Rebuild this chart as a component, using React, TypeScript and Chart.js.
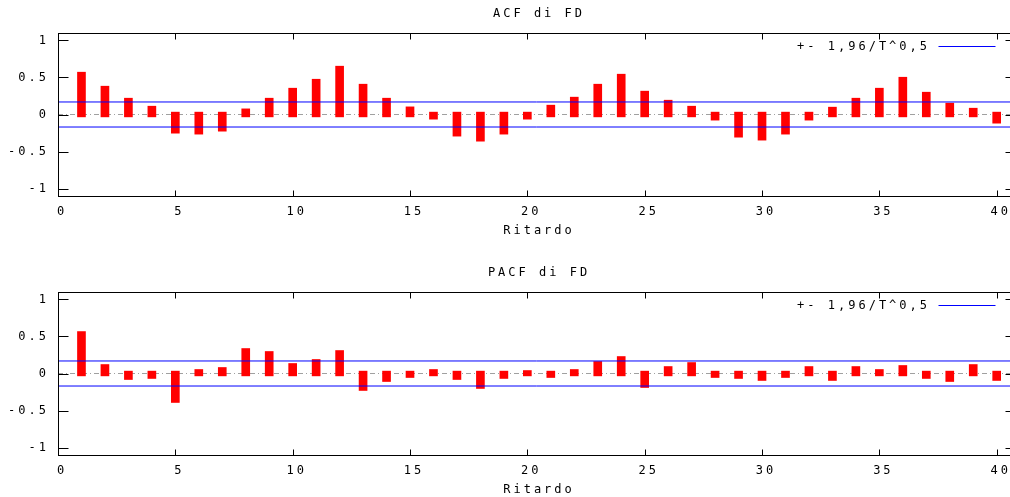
import React, { useEffect, useRef } from "react";
import { Chart, registerables } from "chart.js";

Chart.register(...registerables);

// ---------- data ----------
const lags = [
  1, 2, 3, 4, 5, 6, 7, 8, 9, 10, 11, 12, 13, 14, 15, 16, 17, 18, 19, 20,
  21, 22, 23, 24, 25, 26, 27, 28, 29, 30, 31, 32, 33, 34, 35, 36, 37, 38, 39, 40,
];
const acfValues = [
  0.571, 0.382, 0.22, 0.112, -0.252, -0.265, -0.225, 0.076, 0.22, 0.355,
  0.476, 0.652, 0.409, 0.22, 0.103, -0.063, -0.292, -0.36, -0.265, -0.063,
  0.126, 0.234, 0.409, 0.544, 0.315, 0.193, 0.112, -0.076, -0.306, -0.346,
  -0.265, -0.076, 0.099, 0.22, 0.355, 0.503, 0.301, 0.153, 0.085, -0.117,
];
const pacfValues = [
  0.566, 0.121, -0.081, -0.067, -0.391, 0.054, 0.081, 0.337, 0.297, 0.135,
  0.189, 0.31, -0.229, -0.108, -0.054, 0.054, -0.081, -0.202, -0.067, 0.04,
  -0.054, 0.054, 0.162, 0.229, -0.189, 0.094, 0.148, -0.054, -0.067, -0.094,
  -0.054, 0.094, -0.094, 0.094, 0.054, 0.108, -0.067, -0.108, 0.121, -0.094,
];
const confBand = 0.169;
const xTicks = [0, 5, 10, 15, 20, 25, 30, 35, 40];
const xTickLabels = ["0", "5", "10", "15", "20", "25", "30", "35", "40"];
const yTicks = [-1, -0.5, 0, 0.5, 1];
const yTickLabels = ["-1", "-0.5", "0", "0.5", "1"];
const legendLabel = "+- 1,96/T^0,5";
const xAxisLabel = "Ritardo";
const acfTitle = "ACF di FD";
const pacfTitle = "PACF di FD";
const X_MIN = 0;
const X_MAX = 40.78;
const Y_LIM = 1.1;
const BAR_BASE = 0.032;

// ---------- styles ----------
const FONT_FAMILY = "'DejaVu Sans Mono', monospace";
const FONT_SIZE = 12;
const LETTER_SPACING = "3px";
const RED = "#ff0000";
const BLUE = "#0000ff";
const GRAY = "#a0a0a0";

function makeFramePlugin(title: string) {
  return {
    id: "gnuplotFrame",
    beforeDraw(chart: any) {
      (chart.ctx as any).letterSpacing = LETTER_SPACING;
    },
    afterDraw(chart: any) {
      const { ctx, chartArea: a, scales } = chart;
      const xs = scales.x;
      const ys = scales.y;
      ctx.save();
      ctx.strokeStyle = "#000";
      ctx.lineWidth = 1;
      const L = Math.round(a.left) + 0.5;
      const R = Math.round(a.right) + 0.5;
      const T = Math.round(a.top) + 0.5;
      const B = Math.round(a.bottom) + 0.5;
      ctx.strokeRect(L, T, R - L, B - T);
      ctx.beginPath();
      yTicks.forEach((v) => {
        const py = Math.round(ys.getPixelForValue(v)) + 0.5;
        ctx.moveTo(L, py);
        ctx.lineTo(L + 10, py);
        ctx.moveTo(R, py);
        ctx.lineTo(R - 10, py);
      });
      xTicks.forEach((v) => {
        const px = Math.round(xs.getPixelForValue(v)) + 0.5;
        ctx.moveTo(px, T);
        ctx.lineTo(px, T + 6);
        ctx.moveTo(px, B);
        ctx.lineTo(px, B - 6);
      });
      ctx.stroke();

      (ctx as any).letterSpacing = LETTER_SPACING;
      ctx.fillStyle = "#000";
      ctx.font = `${FONT_SIZE}px ${FONT_FAMILY}`;
      ctx.textBaseline = "middle";
      ctx.textAlign = "center";
      const cx = (a.left + a.right) / 2 + 2.5;
      ctx.fillText(title, cx, 13.5);
      ctx.fillText(xAxisLabel, cx, 231);
      ctx.textAlign = "right";
      ctx.fillText(legendLabel, R - 85.5, 46.5);
      ctx.strokeStyle = BLUE;
      ctx.beginPath();
      ctx.moveTo(R - 77, 46.5);
      ctx.lineTo(R - 20, 46.5);
      ctx.stroke();
      ctx.restore();
    },
  };
}

function CorrPlot({ title, values }: { title: string; values: number[] }) {
  const ref = useRef<HTMLCanvasElement | null>(null);
  useEffect(() => {
    if (!ref.current) return;
    const barData = lags.map((l, i) => ({
      x: l,
      y: [values[i] >= 0 ? -BAR_BASE : BAR_BASE, values[i]],
    }));
    const chart = new Chart(ref.current, {
      type: "bar",
      data: {
        datasets: [
          {
            type: "bar",
            data: barData as any,
            backgroundColor: RED,
            borderWidth: 0,
            barThickness: 8,
            order: 1,
          },
          {
            type: "line",
            data: [
              { x: X_MIN, y: confBand },
              { x: X_MAX, y: confBand },
            ],
            borderColor: BLUE,
            borderWidth: 1,
            pointRadius: 0,
            order: 0,
          },
          {
            type: "line",
            data: [
              { x: X_MIN, y: -confBand },
              { x: X_MAX, y: -confBand },
            ],
            borderColor: BLUE,
            borderWidth: 1,
            pointRadius: 0,
            order: 0,
          },
          {
            type: "line",
            data: [
              { x: X_MIN, y: 0 },
              { x: X_MAX, y: 0 },
            ],
            borderColor: GRAY,
            borderWidth: 1,
            borderDash: [5, 3, 1, 3],
            pointRadius: 0,
            order: 2,
          },
        ] as any,
      },
      options: {
        responsive: false,
        animation: false,
        devicePixelRatio: 1,
        events: [],
        layout: { padding: { top: 33, left: 0, right: 5, bottom: 0 } },
        plugins: {
          legend: { display: false },
          title: { display: false },
          tooltip: { enabled: false },
        },
        scales: {
          x: {
            type: "linear",
            min: X_MIN,
            max: X_MAX,
            offset: false,
            grid: { display: false, drawTicks: false },
            border: { display: false },
            afterBuildTicks: (s: any) => {
              s.ticks = xTicks.map((v) => ({ value: v }));
            },
            afterFit: (s: any) => {
              s.height = 54;
            },
            ticks: {
              color: "#000",
              padding: 9,
              labelOffset: 4,
              maxRotation: 0,
              autoSkip: false,
              font: { family: FONT_FAMILY, size: FONT_SIZE },
              callback: (v: any) => {
                const i = xTicks.indexOf(Number(v));
                return i >= 0 ? xTickLabels[i] : "";
              },
            },
          },
          y: {
            type: "linear",
            min: -Y_LIM,
            max: Y_LIM,
            grid: { display: false, drawTicks: false },
            border: { display: false },
            afterBuildTicks: (s: any) => {
              s.ticks = yTicks.map((v) => ({ value: v }));
            },
            afterFit: (s: any) => {
              s.width = 58;
            },
            ticks: {
              color: "#000",
              padding: 9,
              autoSkip: false,
              font: { family: FONT_FAMILY, size: FONT_SIZE },
              callback: (v: any) => {
                const i = yTicks.indexOf(Number(v));
                return i >= 0 ? yTickLabels[i] : "";
              },
            },
          },
        },
      } as any,
      plugins: [makeFramePlugin(title)],
    });
    return () => chart.destroy();
  }, [title, values]);
  return (
    <canvas
      ref={ref}
      width={1020}
      height={250}
      style={{ width: 1020, height: 250, display: "block" }}
    />
  );
}

export default function App() {
  return (
    <div
      style={{
        position: "absolute",
        left: 0,
        top: 0,
        width: 1010,
        height: 497,
        overflow: "hidden",
        background: "#fff",
      }}
    >
      <div style={{ position: "absolute", left: 0, top: 0, width: 1010, height: 250, overflow: "hidden" }}>
        <CorrPlot title={acfTitle} values={acfValues} />
      </div>
      <div style={{ position: "absolute", left: 0, top: 259, width: 1010, height: 238, overflow: "hidden" }}>
        <CorrPlot title={pacfTitle} values={pacfValues} />
      </div>
    </div>
  );
}
